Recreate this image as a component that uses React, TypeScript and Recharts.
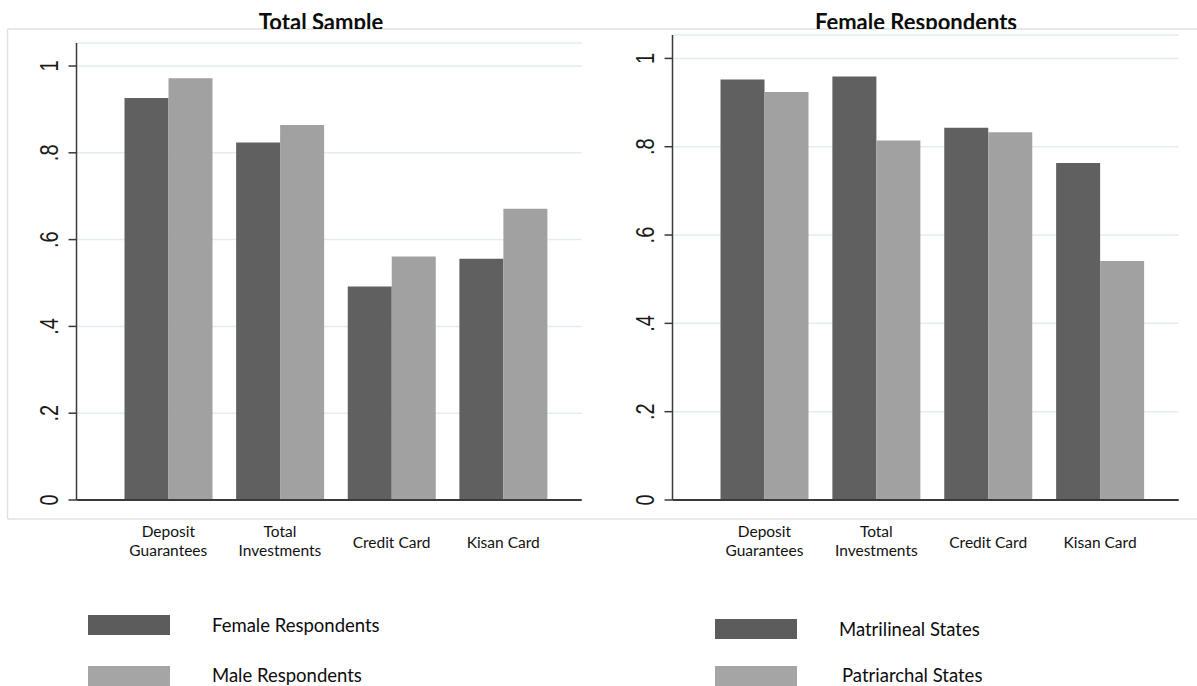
import React from "react";
import { BarChart, Bar, XAxis, YAxis, CartesianGrid } from "recharts";

const categories = ["Deposit Guarantees", "Total Investments", "Credit Card", "Kisan Card"];
const tickLabelLines = [["Deposit", "Guarantees"], ["Total", "Investments"], ["Credit Card"], ["Kisan Card"]];

const femaleRespondents = [0.926, 0.824, 0.492, 0.556];
const maleRespondents = [0.972, 0.864, 0.561, 0.671];
const matrilinealStates = [0.952, 0.959, 0.843, 0.763];
const patriarchalStates = [0.924, 0.814, 0.833, 0.541];

const yTicks = [0, 0.2, 0.4, 0.6, 0.8, 1];

const DARK = "#606060";
const LIGHT = "#a1a1a1";

function buildRows(a: number[], b: number[]) {
  return categories.map((name, i) => ({ name, i, a: a[i], b: b[i] }));
}

function formatY(v: number) {
  if (v === 0) return "0";
  if (v === 1) return "1";
  return String(v).replace(/^0/, "");
}

// Stata-style rotated tick labels, glyphs a bit stretched
function YTick(props: any) {
  const { x, y, payload } = props;
  const bx = x - 11;
  return (
    <text
      transform={`translate(${bx} ${y}) rotate(-90) scale(1 1.25)`}
      textAnchor="middle"
      fontFamily="'Liberation Sans', Arial, sans-serif"
      fontSize={20}
      fill="#1a1a1a"
    >
      {formatY(payload.value)}
    </text>
  );
}

function XTick(props: any) {
  const { x, y, index } = props;
  const lines = tickLabelLines[index] || [];
  const starts = lines.length === 2 ? [31, 50] : [42];
  return (
    <g>
      {lines.map((t, k) => (
        <text
          key={k}
          x={x}
          y={y + starts[k]}
          textAnchor="middle"
          dominantBaseline="central"
          fontFamily="Lato, 'Open Sans', sans-serif"
          fontSize={15.5}
          fill="#111"
        >
          {t}
        </text>
      ))}
    </g>
  );
}

function Panel({ a, b, top, left, width }: { a: number[]; b: number[]; top: number; left: number; width: number }) {
  const data = buildRows(a, b);
  return (
    <div style={{ position: "absolute", left, top: 0 }}>
      <BarChart
        width={width}
        height={560}
        data={data}
        margin={{ top, right: 18.3, left: 0, bottom: 0 }}
        barGap={0}
        barSize={44}
      >
        <CartesianGrid vertical={false} stroke="#e3edf0" strokeWidth={1.5} />
        <XAxis
          dataKey="name"
          interval={0}
          height={60}
          padding={{ left: 36, right: 22.7 }}
          tickSize={0}
          tickMargin={0}
          tickLine={false}
          axisLine={{ stroke: "#3a3a3a", strokeWidth: 2 }}
          tick={<XTick />}
        />
        <YAxis
          width={76.5}
          domain={[0, 1.053]}
          ticks={yTicks}
          tickSize={8}
          tickMargin={0}
          axisLine={{ stroke: "#3a3a3a", strokeWidth: 1.5 }}
          tickLine={{ stroke: "#3a3a3a", strokeWidth: 1.5 }}
          tick={<YTick />}
        />
        <Bar dataKey="a" fill={DARK} isAnimationActive={false} />
        <Bar dataKey="b" fill={LIGHT} isAnimationActive={false} />
      </BarChart>
    </div>
  );
}

function LegendItem({ x, y, tx, ty, color, label }: any) {
  return (
    <g>
      <rect x={x} y={y} width={82} height={20} fill={color} />
      <text
        x={tx}
        y={ty}
        dominantBaseline="central"
        fontFamily="Lato, 'Open Sans', sans-serif"
        fontSize={18.5}
        fill="#0d0d0d"
      >
        {label}
      </text>
    </g>
  );
}

export default function App() {
  return (
    <div style={{ position: "absolute", left: 0, top: 0, width: 1197, height: 686, background: "#fff", overflow: "hidden" }}>
      <Panel a={femaleRespondents} b={maleRespondents} top={43} left={0} width={600} />
      <Panel a={matrilinealStates} b={patriarchalStates} top={35} left={596} width={601} />
      <svg width={1197} height={686} style={{ position: "absolute", left: 0, top: 0, pointerEvents: "none" }}>
        <defs>
          <clipPath id="titleClip">
            <rect x={0} y={0} width={1197} height={29} />
          </clipPath>
        </defs>
        <line x1={7.5} y1={29} x2={1197} y2={29} stroke="#e2e2e2" strokeWidth={1.5} />
        <line x1={7.5} y1={519} x2={1197} y2={519} stroke="#e2e2e2" strokeWidth={1.5} />
        <line x1={7.5} y1={29} x2={7.5} y2={519} stroke="#e2e2e2" strokeWidth={1.5} />
        <g clipPath="url(#titleClip)" fontFamily="Lato, 'Open Sans', sans-serif" fontWeight={700} fontSize={22} fill="#0d0d0d">
          <text x={321} y={30} textAnchor="middle">Total Sample</text>
          <text x={916} y={30} textAnchor="middle">Female Respondents</text>
        </g>
        <LegendItem x={88} y={615} tx={212} ty={625} color="#5c5c5c" label="Female Respondents" />
        <LegendItem x={88} y={666} tx={212} ty={675} color="#a5a5a5" label="Male Respondents" />
        <LegendItem x={715} y={619} tx={839} ty={629} color="#5c5c5c" label="Matrilineal States" />
        <LegendItem x={715} y={666} tx={842} ty={675} color="#a5a5a5" label="Patriarchal States" />
      </svg>
    </div>
  );
}
